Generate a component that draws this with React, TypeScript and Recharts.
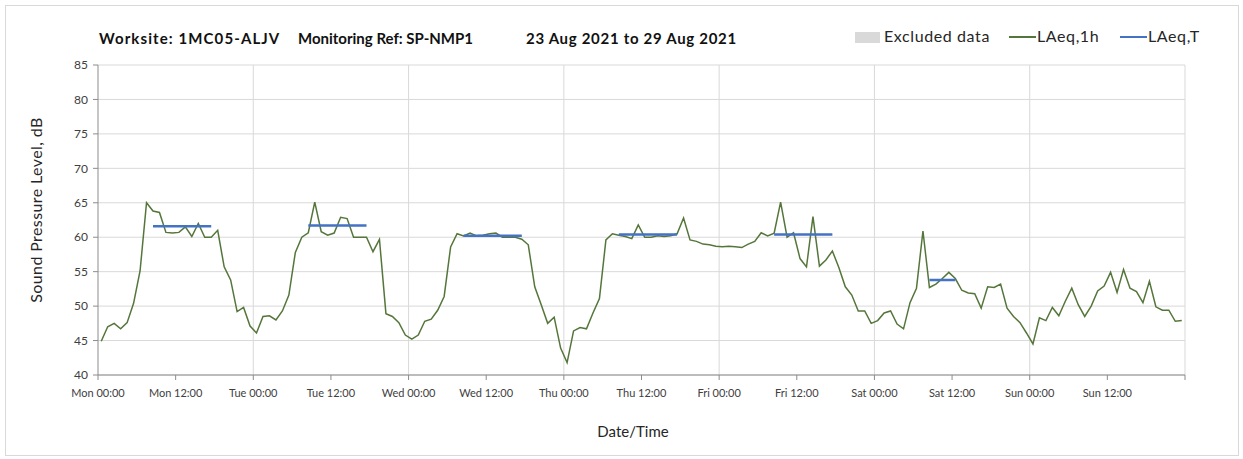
import { LineChart, Line, XAxis, YAxis, CartesianGrid, ReferenceLine } from 'recharts'

const dayNames = ['Mon', 'Tue', 'Wed', 'Thu', 'Fri', 'Sat', 'Sun']

// hourly LAeq,1h per day, 00:00..23:00
const mon = [44.9, 47.0, 47.5, 46.7, 47.6, 50.4, 55.1, 65.0, 63.8, 63.6, 60.7, 60.6, 60.7, 61.5, 60.1, 62.0, 60.0, 60.0, 61.0, 55.7, 53.8, 49.2, 49.8, 47.1]
const tue = [46.1, 48.5, 48.6, 48.0, 49.3, 51.6, 57.8, 60.0, 60.65, 65.1, 60.8, 60.3, 60.6, 62.9, 62.7, 60.0, 60.0, 60.0, 57.9, 59.7, 48.9, 48.5, 47.6, 45.8]
const wed = [45.2, 45.8, 47.8, 48.1, 49.4, 51.4, 58.6, 60.5, 60.2, 60.6, 60.2, 60.3, 60.5, 60.6, 60.0, 60.0, 60.0, 59.7, 58.9, 52.8, 50.2, 47.5, 48.4, 43.9]
const thu = [41.8, 46.4, 46.9, 46.7, 49.0, 51.1, 59.6, 60.5, 60.3, 60.1, 59.8, 61.8, 60.0, 60.0, 60.2, 60.1, 60.2, 60.5, 62.8, 59.6, 59.4, 59.0, 58.9, 58.7]
const fri = [58.6, 58.7, 58.6, 58.5, 59.0, 59.4, 60.65, 60.2, 60.6, 65.1, 60.0, 60.65, 56.9, 55.7, 63.0, 55.8, 56.7, 58.0, 55.6, 52.8, 51.6, 49.3, 49.3, 47.5]
const sat = [47.9, 49.0, 49.3, 47.4, 46.7, 50.5, 52.6, 60.9, 52.7, 53.2, 54.0, 54.9, 54.0, 52.3, 51.9, 51.8, 49.7, 52.8, 52.7, 53.2, 49.7, 48.5, 47.6, 46.1]
const sun = [44.5, 48.3, 47.9, 49.8, 48.6, 50.7, 52.6, 50.2, 48.5, 50.0, 52.2, 52.9, 54.9, 52.0, 55.3, 52.6, 52.1, 50.5, 53.6, 49.9, 49.4, 49.4, 47.8, 47.9]

// LAeq,T over the daytime period of each day
const laeqT = [61.6, 61.7, 60.2, 60.4, 60.4, 53.8, null]
const periodStart = [8, 8, 8, 8, 8, 8, 8]
const periodEnd = [18, 18, 18, 18, 18, 13, 8]

const xTicks = [0, 12, 24, 36, 48, 60, 72, 84, 96, 108, 120, 132, 144, 156, 168]
const dayLines = [24, 48, 72, 96, 120, 144, 168]
const yTicks = [40, 45, 50, 55, 60, 65, 70, 75, 80, 85]

const days = [mon, tue, wed, thu, fri, sat, sun]
const data = days.flatMap((vals, d) =>
  vals.map((v, h) => ({
    t: d * 24 + h + 0.5,
    laeq1h: v,
    laeqT: h >= periodStart[d] && h < periodEnd[d] ? laeqT[d] : null,
  }))
)

const font = "Lato, 'Open Sans', sans-serif"

const fmtTick = (v: number) => {
  if (v >= 168) return ''
  return `${dayNames[Math.floor(v / 24)]} ${v % 24 === 0 ? '00' : '12'}:00`
}

const titleStyle = { position: 'absolute' as const, top: 29, fontSize: 15, fontWeight: 700, color: '#111', whiteSpace: 'nowrap' as const }
const legendText = { position: 'absolute' as const, top: 26, fontSize: 16, letterSpacing: 0.6, color: '#262626', whiteSpace: 'nowrap' as const }

export default function App() {
  return (
    <div style={{ position: 'absolute', left: 0, top: 0, width: 1243, height: 459, background: '#fff', fontFamily: font }}>
      <div style={{ position: 'absolute', left: 5, top: 5, width: 1232, height: 449, border: '1px solid #d9d9d9' }} />
      <LineChart width={1243} height={459} data={data} margin={{ top: 65, right: 58, bottom: 54, left: 43 }}>
        <CartesianGrid vertical={false} stroke="#d9d9d9" />
        {dayLines.map((x) => (
          <ReferenceLine key={x} x={x} stroke="#d9d9d9" />
        ))}
        <XAxis
          dataKey="t"
          type="number"
          domain={[0, 168]}
          ticks={xTicks}
          interval={0}
          tickFormatter={fmtTick}
          height={30}
          stroke="#8c8c8c"
          tickSize={5}
          tickMargin={9}
          tick={{ fill: '#404040', fontSize: 11, fontFamily: font }}
        />
        <YAxis
          type="number"
          domain={[40, 85]}
          ticks={yTicks}
          interval={0}
          width={55}
          stroke="#8c8c8c"
          tickSize={5}
          tickMargin={5}
          tick={{ fill: '#404040', fontSize: 12, fontFamily: font }}
        />
        <Line
          type="linear"
          dataKey="laeq1h"
          stroke="#55763b"
          strokeWidth={1.5}
          dot={false}
          isAnimationActive={false}
        />
        <Line
          type="linear"
          dataKey="laeqT"
          stroke="#4472c4"
          strokeWidth={2.5}
          dot={false}
          connectNulls={false}
          isAnimationActive={false}
        />
      </LineChart>

      {/* title */}
      <div style={{ ...titleStyle, left: 99, letterSpacing: 1.1 }}>Worksite: 1MC05-ALJV</div>
      <div style={{ ...titleStyle, left: 298 }}>Monitoring Ref: SP-NMP1</div>
      <div style={{ ...titleStyle, left: 526, letterSpacing: 0.7 }}>23 Aug 2021 to 29 Aug 2021</div>

      {/* legend */}
      <div style={{ position: 'absolute', left: 855, top: 32, width: 25, height: 11, background: '#d9d9d9' }} />
      <div style={{ ...legendText, left: 884 }}>Excluded data</div>
      <div style={{ position: 'absolute', left: 1009, top: 36, width: 27, height: 1.5, background: '#55763b' }} />
      <div style={{ ...legendText, left: 1037 }}>LAeq,1h</div>
      <div style={{ position: 'absolute', left: 1120, top: 35.5, width: 27, height: 2.5, background: '#4472c4' }} />
      <div style={{ ...legendText, left: 1148 }}>LAeq,T</div>

      {/* axis titles */}
      <div style={{ position: 'absolute', left: 35, top: 210, transform: 'translate(-50%, -50%) rotate(-90deg)', fontSize: 16, letterSpacing: 0.4, color: '#262626', whiteSpace: 'nowrap' }}>
        Sound Pressure Level, dB
      </div>
      <div style={{ position: 'absolute', left: 633, top: 431, transform: 'translate(-50%, -50%)', fontSize: 15, color: '#262626', whiteSpace: 'nowrap' }}>
        Date/Time
      </div>
    </div>
  )
}
